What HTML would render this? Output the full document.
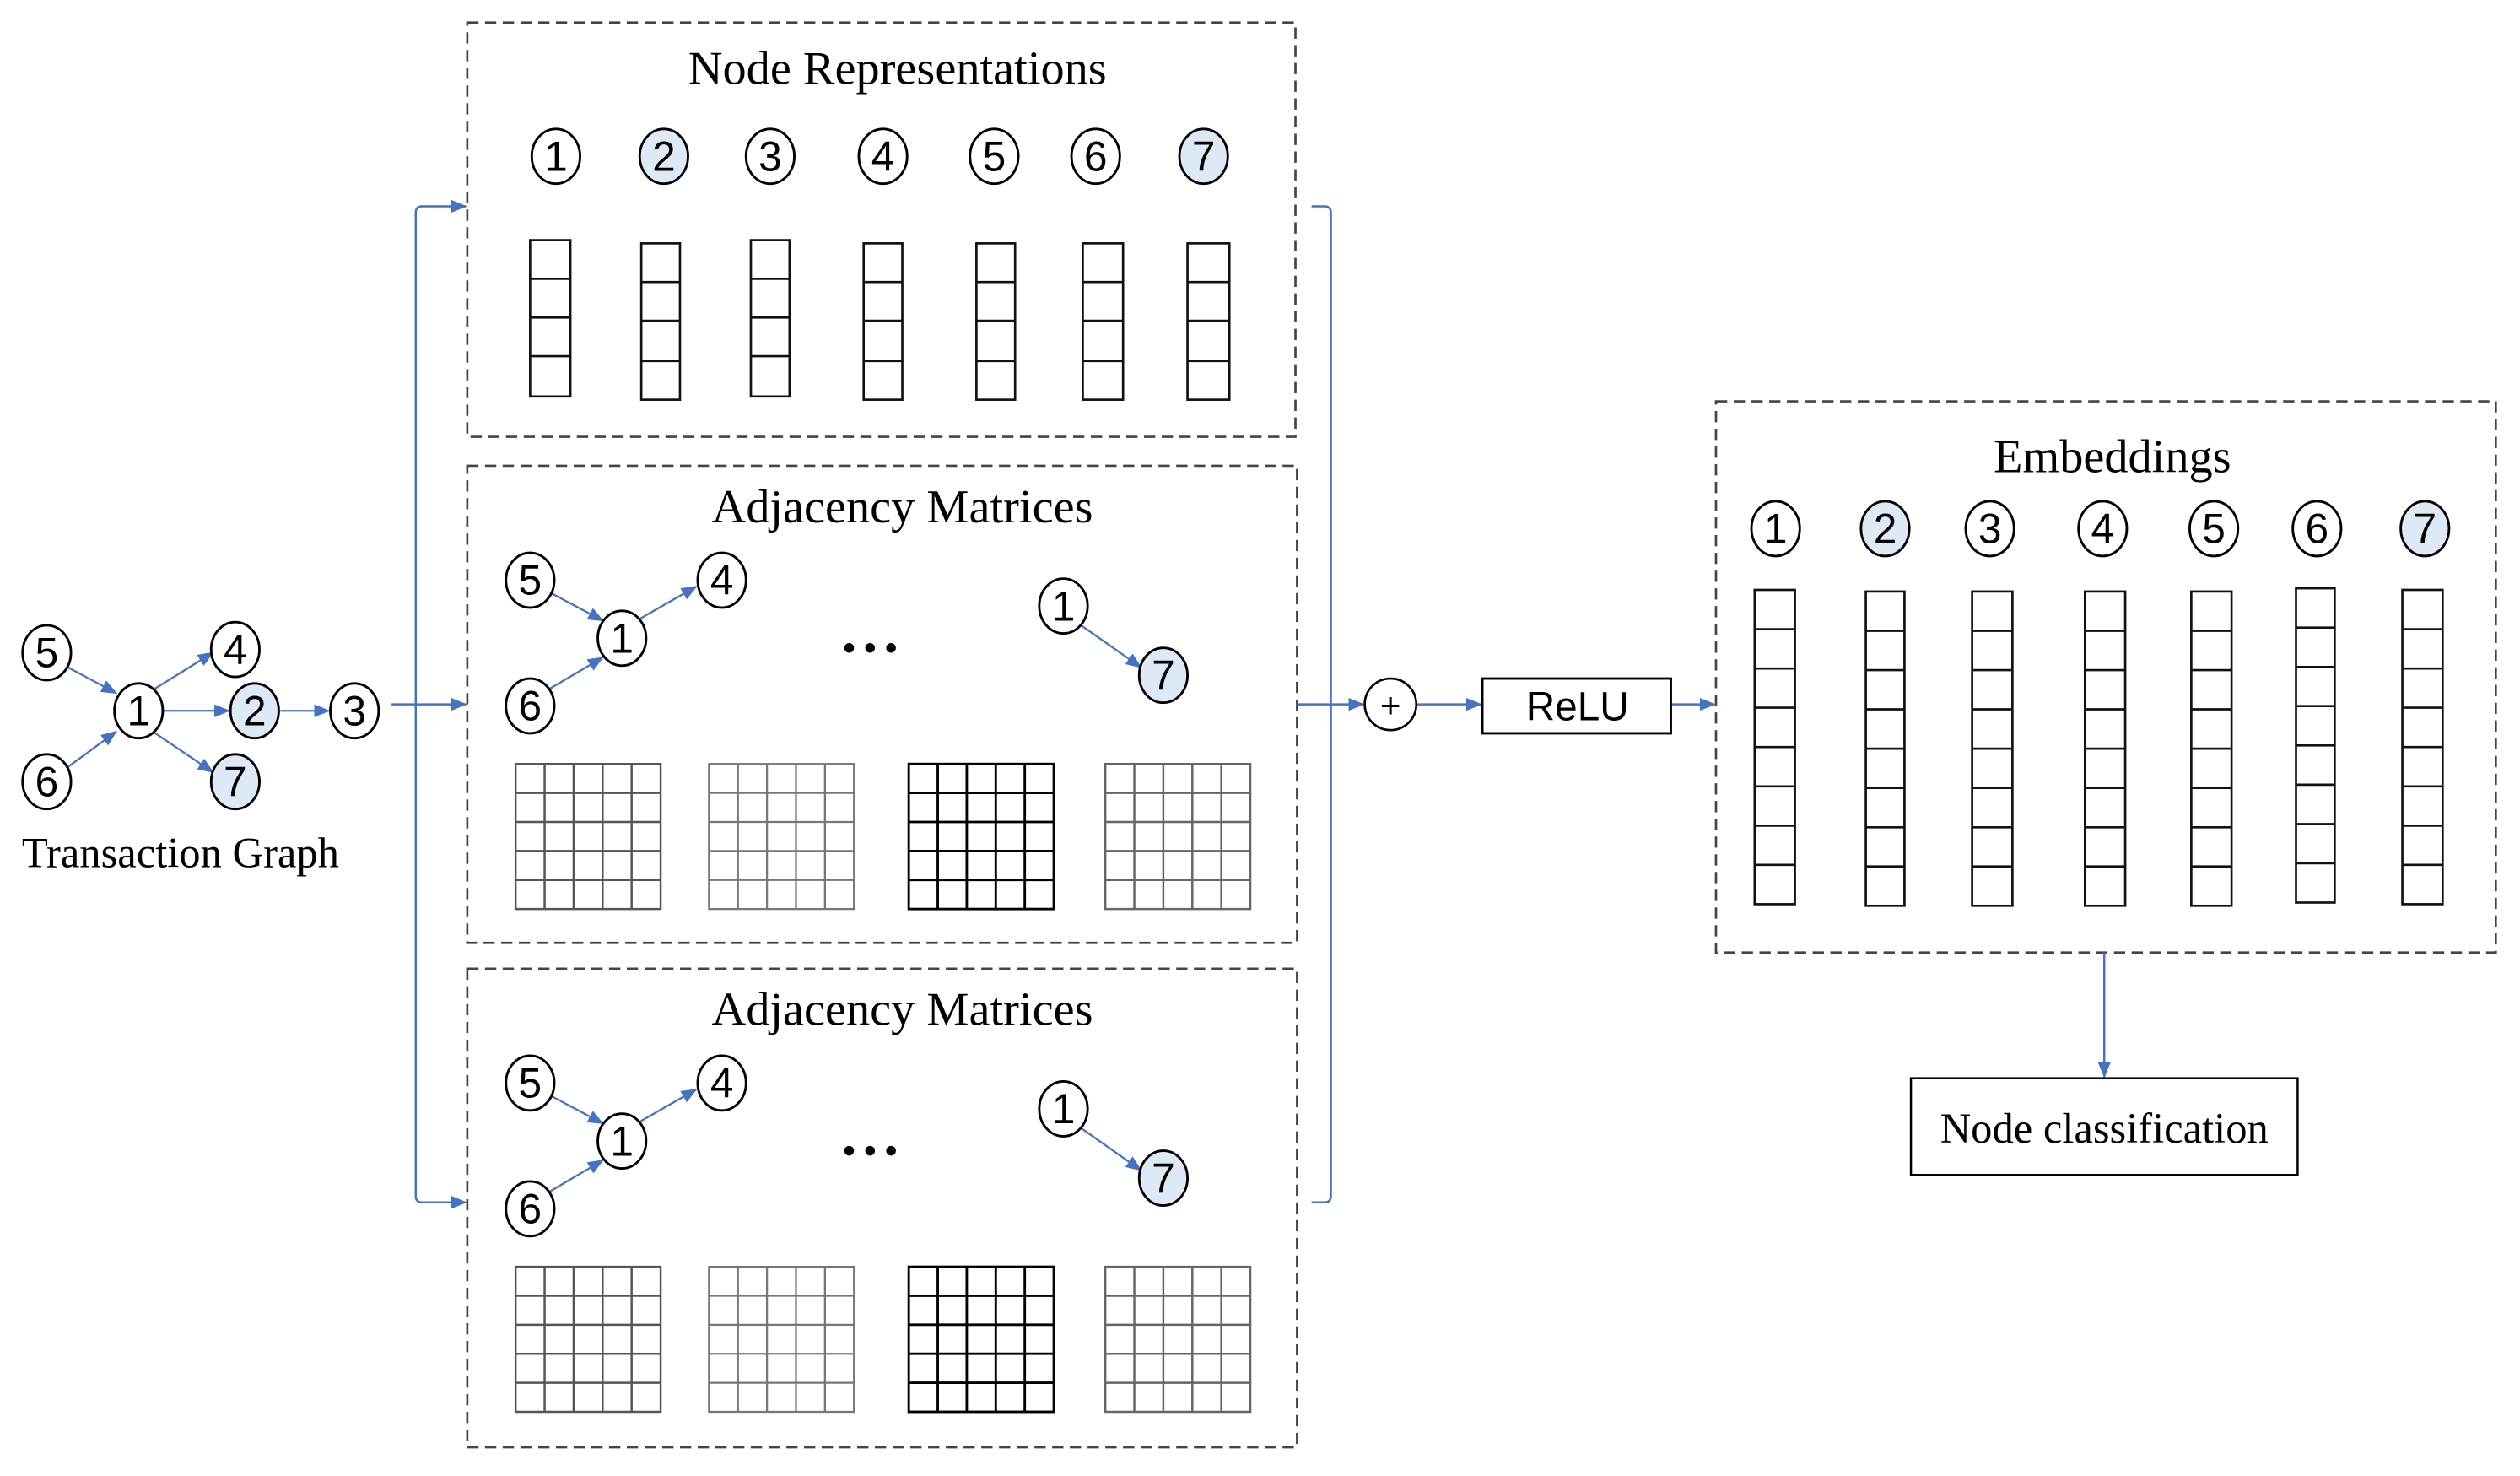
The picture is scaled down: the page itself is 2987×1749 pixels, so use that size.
<!DOCTYPE html>
<html><head><meta charset="utf-8"><style>html,body{margin:0;padding:0;background:#fff}svg{display:block}</style></head><body>
<svg width="2987" height="1749" viewBox="0 0 1564 915.8" xmlns="http://www.w3.org/2000/svg">
<defs>
<marker id="a" markerWidth="10" markerHeight="10" refX="9" refY="5" orient="auto" markerUnits="userSpaceOnUse"><path d="M0,1 L10,5 L0,9 z" fill="#4472c4"/></marker>
</defs>
<g fill="none" stroke="#444" stroke-width="1.4" stroke-dasharray="7,4">
<rect x="290" y="14" width="514" height="257"/>
<rect x="290" y="289" width="515" height="296"/>
<rect x="290" y="601" width="515" height="297"/>
<rect x="1065" y="249" width="484" height="342"/>
</g>
<g font-family="Liberation Serif, serif" font-size="29.5" fill="#000" text-anchor="middle">
<text x="557" y="52">Node Representations</text>
<text x="560" y="324">Adjacency Matrices</text>
<text x="560" y="636">Adjacency Matrices</text>
<text x="1311" y="293">Embeddings</text>
<text x="112" y="538" font-size="26.5">Transaction Graph</text>
</g>
<g font-family="Liberation Sans, sans-serif" font-size="26" text-anchor="middle" stroke="#000" stroke-width="1.5">
<g><ellipse cx="345" cy="97" rx="15" ry="17" fill="#fff"/><text x="345" y="106" stroke="none">1</text></g>
<g><ellipse cx="412" cy="97" rx="15" ry="17" fill="#dde9f5"/><text x="412" y="106" stroke="none">2</text></g>
<g><ellipse cx="478" cy="97" rx="15" ry="17" fill="#fff"/><text x="478" y="106" stroke="none">3</text></g>
<g><ellipse cx="548" cy="97" rx="15" ry="17" fill="#fff"/><text x="548" y="106" stroke="none">4</text></g>
<g><ellipse cx="617" cy="97" rx="15" ry="17" fill="#fff"/><text x="617" y="106" stroke="none">5</text></g>
<g><ellipse cx="680" cy="97" rx="15" ry="17" fill="#fff"/><text x="680" y="106" stroke="none">6</text></g>
<g><ellipse cx="747" cy="97" rx="15" ry="17" fill="#dde9f5"/><text x="747" y="106" stroke="none">7</text></g>
<g><ellipse cx="1102" cy="328" rx="15" ry="17" fill="#fff"/><text x="1102" y="337" stroke="none">1</text></g>
<g><ellipse cx="1170" cy="328" rx="15" ry="17" fill="#dde9f5"/><text x="1170" y="337" stroke="none">2</text></g>
<g><ellipse cx="1235" cy="328" rx="15" ry="17" fill="#fff"/><text x="1235" y="337" stroke="none">3</text></g>
<g><ellipse cx="1305" cy="328" rx="15" ry="17" fill="#fff"/><text x="1305" y="337" stroke="none">4</text></g>
<g><ellipse cx="1374" cy="328" rx="15" ry="17" fill="#fff"/><text x="1374" y="337" stroke="none">5</text></g>
<g><ellipse cx="1438" cy="328" rx="15" ry="17" fill="#fff"/><text x="1438" y="337" stroke="none">6</text></g>
<g><ellipse cx="1505" cy="328" rx="15" ry="17" fill="#dde9f5"/><text x="1505" y="337" stroke="none">7</text></g>
</g>
<g fill="#fff" stroke="#111" stroke-width="1.4">
<g>
<rect x="329" y="149" width="25" height="97"/><path d="M329 173h25M329 197h25M329 221h25"/>
<rect x="398" y="151" width="24" height="97"/><path d="M398 175h24M398 199h24M398 224h24"/>
<rect x="466" y="149" width="24" height="97"/><path d="M466 173h24M466 197h24M466 221h24"/>
<rect x="536" y="151" width="24" height="97"/><path d="M536 175h24M536 199h24M536 224h24"/>
<rect x="606" y="151" width="24" height="97"/><path d="M606 175h24M606 199h24M606 224h24"/>
<rect x="672" y="151" width="25" height="97"/><path d="M672 175h25M672 199h25M672 224h25"/>
<rect x="737" y="151" width="26" height="97"/><path d="M737 175h26M737 199h26M737 224h26"/>
</g>
<g>
<rect x="1089" y="366" width="25" height="195"/><path d="M1089 390.4h25M1089 414.8h25M1089 439.1h25M1089 463.5h25M1089 487.9h25M1089 512.3h25M1089 536.6h25"/>
<rect x="1158" y="367" width="24" height="195"/><path d="M1158 391.4h24M1158 415.8h24M1158 440.1h24M1158 464.5h24M1158 488.9h24M1158 513.3h24M1158 537.6h24"/>
<rect x="1224" y="367" width="25" height="195"/><path d="M1224 391.4h25M1224 415.8h25M1224 440.1h25M1224 464.5h25M1224 488.9h25M1224 513.3h25M1224 537.6h25"/>
<rect x="1294" y="367" width="25" height="195"/><path d="M1294 391.4h25M1294 415.8h25M1294 440.1h25M1294 464.5h25M1294 488.9h25M1294 513.3h25M1294 537.6h25"/>
<rect x="1360" y="367" width="25" height="195"/><path d="M1360 391.4h25M1360 415.8h25M1360 440.1h25M1360 464.5h25M1360 488.9h25M1360 513.3h25M1360 537.6h25"/>
<rect x="1425" y="365" width="24" height="195"/><path d="M1425 389.4h24M1425 413.8h24M1425 438.1h24M1425 462.5h24M1425 486.9h24M1425 511.3h24M1425 535.6h24"/>
<rect x="1491" y="366" width="25" height="195"/><path d="M1491 390.4h25M1491 414.8h25M1491 439.1h25M1491 463.5h25M1491 487.9h25M1491 512.3h25M1491 536.6h25"/>
</g>
</g>
<g fill="none">
<g id="m1">
<g stroke="#555" stroke-width="1.3"><rect x="320" y="474" width="90" height="90"/><path d="M338 474v90M356 474v90M374 474v90M392 474v90M320 492h90M320 510h90M320 528h90M320 546h90"/></g>
<g stroke="#777" stroke-width="1.2"><rect x="440" y="474" width="90" height="90"/><path d="M458 474v90M476 474v90M494 474v90M512 474v90M440 492h90M440 510h90M440 528h90M440 546h90"/></g>
<g stroke="#000" stroke-width="1.5"><rect x="564" y="474" width="90" height="90"/><path d="M582 474v90M600 474v90M618 474v90M636 474v90M564 492h90M564 510h90M564 528h90M564 546h90"/></g>
<g stroke="#666" stroke-width="1.3"><rect x="686" y="474" width="90" height="90"/><path d="M704 474v90M722 474v90M740 474v90M758 474v90M686 492h90M686 510h90M686 528h90M686 546h90"/></g>
</g>
<use href="#m1" transform="translate(0,312)"/>
</g>
<g id="g1">
<g stroke="#4472c4" stroke-width="1.2" fill="none" marker-end="url(#a)">
<path d="M342 368 L374 385"/><path d="M397 384 L432 364"/><path d="M340 428 L374 408"/><path d="M671 388 L708 414"/>
</g>
<g font-family="Liberation Sans, sans-serif" font-size="26" text-anchor="middle" stroke="#000" stroke-width="1.5">
<ellipse cx="329" cy="360" rx="15" ry="17" fill="#fff"/><text x="329" y="369" stroke="none">5</text>
<ellipse cx="386" cy="396" rx="15" ry="17" fill="#fff"/><text x="386" y="405" stroke="none">1</text>
<ellipse cx="448" cy="360" rx="15" ry="17" fill="#fff"/><text x="448" y="369" stroke="none">4</text>
<ellipse cx="329" cy="438" rx="15" ry="17" fill="#fff"/><text x="329" y="447" stroke="none">6</text>
<ellipse cx="660" cy="376" rx="15" ry="17" fill="#fff"/><text x="660" y="385" stroke="none">1</text>
<ellipse cx="722" cy="419" rx="15" ry="17" fill="#dde9f5"/><text x="722" y="428" stroke="none">7</text>
</g>
<g fill="#000"><circle cx="527" cy="402" r="3"/><circle cx="540" cy="402" r="3"/><circle cx="553" cy="402" r="3"/></g>
</g>
<use href="#g1" transform="translate(0,312)"/>
<g stroke="#4472c4" stroke-width="1.2" fill="none" marker-end="url(#a)">
<path d="M42 414 L72 430"/><path d="M95 428 L132 405"/><path d="M101 441 L142 441"/><path d="M42 476 L72 454"/><path d="M95 454 L132 479"/><path d="M174 441 L204 441"/>
</g>
<g font-family="Liberation Sans, sans-serif" font-size="26" text-anchor="middle" stroke="#000" stroke-width="1.5">
<ellipse cx="29" cy="405" rx="15" ry="17" fill="#fff"/><text x="29" y="414" stroke="none">5</text>
<ellipse cx="86" cy="441" rx="15" ry="17" fill="#fff"/><text x="86" y="450" stroke="none">1</text>
<ellipse cx="146" cy="403" rx="15" ry="17" fill="#fff"/><text x="146" y="412" stroke="none">4</text>
<ellipse cx="158" cy="441" rx="15" ry="17" fill="#dde9f5"/><text x="158" y="450" stroke="none">2</text>
<ellipse cx="220" cy="441" rx="15" ry="17" fill="#fff"/><text x="220" y="450" stroke="none">3</text>
<ellipse cx="29" cy="485" rx="15" ry="17" fill="#fff"/><text x="29" y="494" stroke="none">6</text>
<ellipse cx="146" cy="485" rx="15" ry="17" fill="#dde9f5"/><text x="146" y="494" stroke="none">7</text>
</g>
<g stroke="#4472c4" stroke-width="1.3" fill="none">
<path d="M243 437 L289 437" marker-end="url(#a)"/>
<path d="M289 128 L262 128 Q258 128 258 132 L258 742 Q258 746 262 746 L289 746" />
<path d="M280 128 L289 128" marker-end="url(#a)"/>
<path d="M280 746 L289 746" marker-end="url(#a)"/>
<path d="M814 128 L822 128 Q826 128 826 132 L826 742 Q826 746 822 746 L814 746"/>
<path d="M805 437 L846 437" marker-end="url(#a)"/>
<path d="M879 437 L919 437" marker-end="url(#a)"/>
<path d="M1037 437 L1064 437" marker-end="url(#a)"/>
<path d="M1306 591 L1306 668" marker-end="url(#a)"/>
</g>
<circle cx="863" cy="437" r="16" fill="#fff" stroke="#000" stroke-width="1.4"/>
<text x="863" y="445" font-family="Liberation Sans, sans-serif" font-size="22" text-anchor="middle">+</text>
<rect x="920" y="421" width="117" height="34" fill="#fff" stroke="#000" stroke-width="1.5"/>
<text x="979" y="447" font-family="Liberation Sans, sans-serif" font-size="25" text-anchor="middle">ReLU</text>
<rect x="1186" y="669" width="240" height="60" fill="#fff" stroke="#000" stroke-width="1.3"/>
<text x="1306" y="709" font-family="Liberation Serif, serif" font-size="26.5" text-anchor="middle">Node classification</text>
</svg>
</body></html>
